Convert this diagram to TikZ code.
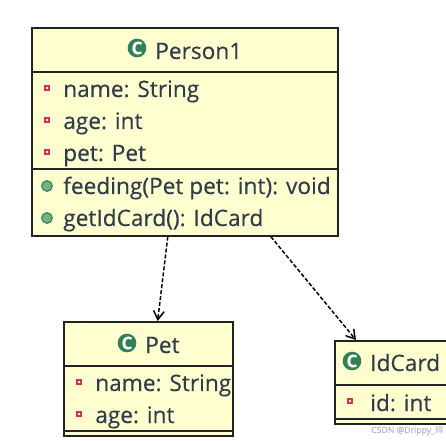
\documentclass[tikz,border=0pt]{standalone}
\usepackage{fontspec}
\setmainfont[FakeBold=0.25]{Open Sans}
\newfontfamily\cjkfont{Noto Sans CJK SC}
\usepackage{xcolor}
\usepackage{tikz}
\usetikzlibrary{arrows.meta,positioning}
\definecolor{umlfill}{HTML}{FEFECE}
\definecolor{umlline}{HTML}{222222}
\definecolor{umltext}{HTML}{2E3C4B}
\definecolor{classgreen}{HTML}{2F8055}
\definecolor{fieldred}{HTML}{DC2F50}
\definecolor{methodgreen}{HTML}{4E9E68}
\newcommand{\member}[3]{\node[memberlabel] (#1) at (#2) {#3};}

\begin{document}
\begin{tikzpicture}[
  x=0.75pt, y=-0.75pt,
  classbox/.style={draw=umlline, fill=umlfill, line width=1.2pt, inner sep=0pt},
  divider/.style={draw=umlline, line width=1.2pt},
  titlelabel/.style={anchor=base west, inner sep=0pt, text=umltext, font=\fontsize{17}{20}\selectfont},
  memberlabel/.style={anchor=base west, inner sep=0pt, text=umltext, font=\fontsize{17}{20}\selectfont},
  classicon/.style={circle, fill=classgreen, minimum size=14pt, inner sep=0pt, text=white, font=\bfseries\fontsize{13}{13}\selectfont},
  fieldicon/.style={rectangle, draw=fieldred, fill=white, line width=1.6pt, minimum size=3.4pt, inner sep=0pt},
  methodicon/.style={circle, draw=classgreen, fill=methodgreen!80, line width=0.8pt, minimum size=8pt, inner sep=0pt},
  arrow/.style={-{Straight Barb[length=6.5pt,width=8pt]}, draw=black, line width=1.1pt, dash pattern=on 3pt off 1.5pt}
]
\useasboundingbox (1,1) rectangle (447,442);
\fill[white] (1,1) rectangle (447,442);

% Person1
\node[classbox, minimum width=229.5pt, minimum height=156pt, anchor=north west] (person) at (32,28) {};
\draw[divider] (32,73) -- (338,73);
\draw[divider] (32,170) -- (338,170);
\node[classicon] (personicon) at (138,49) {C};
\node[titlelabel] (persontitle) at (156,60) {Person1};
\node[fieldicon] (f1) at (48,89) {};
\member{personname}{64,98}{name: String}
\node[fieldicon] (f2) at (48,121) {};
\member{personage}{64,130}{age: int}
\node[fieldicon] (f3) at (48,153) {};
\member{personpet}{64,162}{pet: Pet}
\node[methodicon] (m1) at (48,187) {};
\member{feeding}{64,195}{feeding(Pet pet: int): void}
\node[methodicon] (m2) at (48,219) {};
\member{getcard}{64,227}{getIdCard(): IdCard}

% Pet
\node[classbox, minimum width=126.75pt, minimum height=85.5pt, anchor=north west] (pet) at (64,322) {};
\draw[divider] (64,367) -- (233,367);
\draw[divider] (64,432) -- (233,432);
\node[classicon] (peticon) at (128,344) {C};
\node[titlelabel] (pettitle) at (146,354) {Pet};
\node[fieldicon] (f4) at (80,383) {};
\member{petname}{96,392}{name: String}
\node[fieldicon] (f5) at (80,415) {};
\member{petage}{96,424}{age: int}

% IdCard runs off the right edge
\begin{scope}
\clip (1,1) rectangle (447,442);
\node[classbox, minimum width=120pt, minimum height=62.25pt, anchor=north west] (card) at (335,341) {};
\draw[divider] (335,386) -- (495,386);
\draw[divider] (335,420) -- (495,420);
\end{scope}
\node[classicon] (cardicon) at (353,362) {C};
\node[titlelabel] (cardtitle) at (371,372) {IdCard};
\node[fieldicon] (f6) at (351,402) {};
\member{cardid}{371,412}{id: int}

\draw[arrow] ([xshift=-12.75pt]person.south) -- ([xshift=7pt]pet.north);
\draw[arrow] ([xshift=64.5pt]person.south) -- ([xshift=16.5pt]card.north west);

\node[anchor=base east, inner sep=0pt, text=black!28, font=\fontsize{6.5}{8}\selectfont] (mark) at (445,434) {CSDN @Drippy\_{\cjkfont 辉}};
\end{tikzpicture}
\end{document}
